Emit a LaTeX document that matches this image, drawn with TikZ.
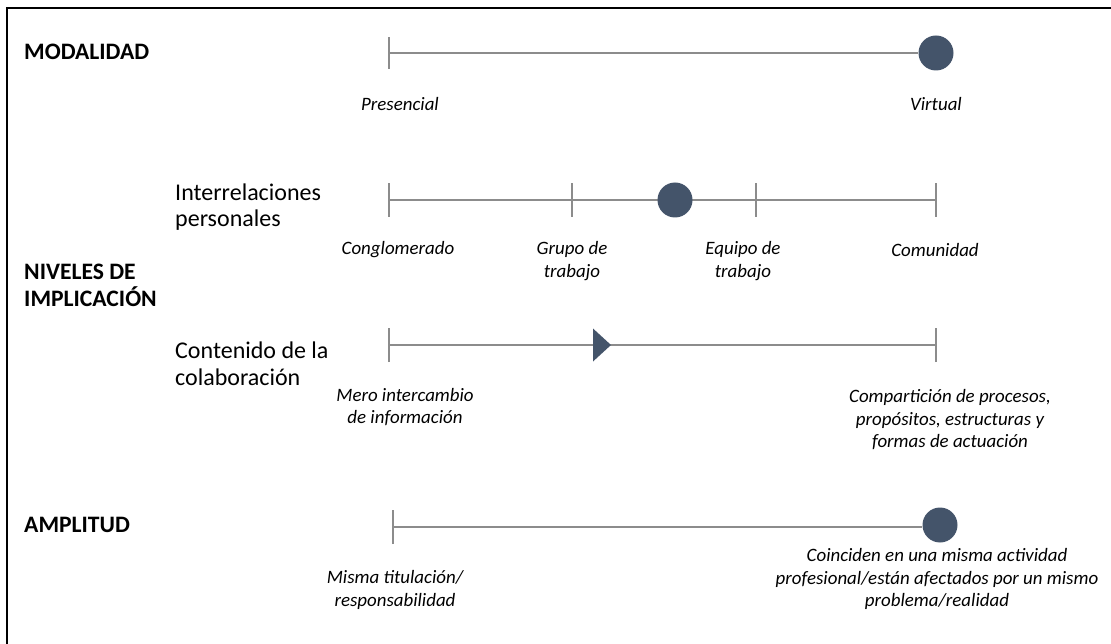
\documentclass[tikz,border=0pt]{standalone}
\usepackage{fontspec}
\setmainfont{Carlito}
\usetikzlibrary{shapes.geometric}
\definecolor{markblue}{HTML}{44546A}
\definecolor{axisgray}{HTML}{8C8C8C}
\tikzset{
  axis/.style={draw=axisgray, line width=1.1pt},
  tickmark/.style={draw=axisgray, line width=1.1pt},
  dot/.style={circle, fill=markblue, minimum size=35pt, inner sep=0pt},
  lab/.style={font=\fontsize{18.9}{22.5}\selectfont\itshape, align=center, inner sep=0pt},
  head/.style={font=\fontsize{23.6}{27}\selectfont\bfseries, align=left, anchor=west, inner sep=0pt},
  sub/.style={font=\fontsize{24}{26.5}\selectfont, align=left, anchor=west, inner sep=0pt},
  frame/.style={draw=black, line width=2pt}
}
\begin{document}
\begin{tikzpicture}[x=1pt,y=-1pt]
\useasboundingbox (0,0) rectangle (1111,644);
% frame (left and top edges)
\coordinate (fl) at (7,644);
\coordinate (fc) at (7,8);
\coordinate (fr) at (1111,8);
\draw[frame] (fl) -- (fc) -- (fr);

% headings
\node[head] (hmod) at (24,52) {MODALIDAD};
\node[head] (hniv) at (24,285) {NIVELES DE\\IMPLICACIÓN};
\node[head] (hamp) at (24,525) {AMPLITUD};
\node[sub] (sint) at (175,207) {Interrelaciones\\personales};
\node[sub] (scon) at (175,364) {Contenido de la\\colaboración};

% MODALIDAD axis
\coordinate (m0) at (389,53);
\node[dot] (mdot) at (936,53) {};
\draw[axis] (m0) -- (mdot);
\draw[tickmark] ([yshift=-16pt]m0) -- ([yshift=16pt]m0);
\node[lab] (lpres) at (400,104) {Presencial};
\node[lab] (lvirt) at (936,104) {Virtual};

% Interrelaciones axis
\coordinate (i0) at (389,200);
\coordinate (i1) at (572,200);
\coordinate (i2) at (756,200);
\coordinate (i3) at (936,200);
\draw[axis] (i0) -- (i3);
\foreach \c in {i0,i1,i2,i3}{\draw[tickmark] ([yshift=-17pt]\c) -- ([yshift=17pt]\c);}
\node[dot] (idot) at (675,200) {};
\node[lab] (lcong) at (398,250) {Conglomerado};
\node[lab] (lgrup) at (572,261) {Grupo de\\trabajo};
\node[lab] (lequi) at (743,261) {Equipo de\\trabajo};
\node[lab] (lcomu) at (935,250) {Comunidad};

% Contenido axis
\coordinate (c0) at (389,345);
\coordinate (c1) at (936,345);
\draw[axis] (c0) -- (c1);
\foreach \c in {c0,c1}{\draw[tickmark] ([yshift=-17pt]\c) -- ([yshift=17pt]\c);}
\coordinate (ta) at (593,328.5);
\coordinate (tb) at (593,361.5);
\coordinate (tc) at (611,345);
\fill[markblue] (ta) -- (tc) -- (tb) -- cycle;
\node[lab] (lmero) at (405,407) {Mero intercambio\\de información};
\node[lab] (lcomp) at (950,420) {Compartición de procesos,\\propósitos, estructuras y\\formas de actuación};

% AMPLITUD axis
\coordinate (a0) at (393,527);
\node[dot] (adot) at (940,525) {};
\draw[axis] (a0) -- (adot.west |- a0);
\draw[tickmark] ([yshift=-17pt]a0) -- ([yshift=17pt]a0);
\node[lab] (lmism) at (395,590) {Misma titulación/\\responsabilidad};
\node[lab] (lcoin) at (937,579) {Coinciden en una misma actividad\\profesional/están afectados por un mismo\\problema/realidad};
\end{tikzpicture}
\end{document}
